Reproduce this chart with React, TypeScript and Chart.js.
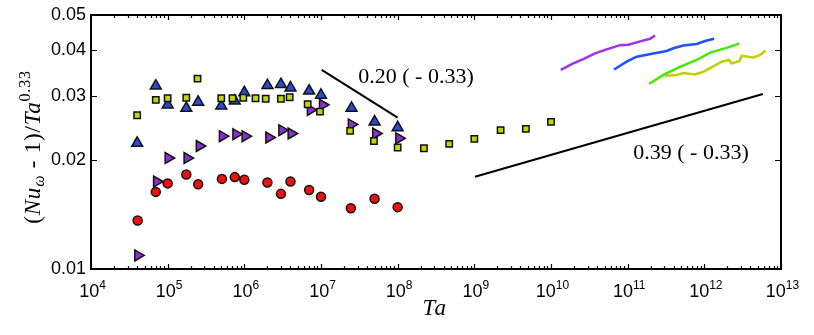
import React, { useEffect, useRef } from "react";
import { Chart, registerables } from "chart.js";
Chart.register(...registerables);

// ---- data ----
const squareTa = [4.0e4, 7.0e4, 1.0e5, 1.75e5, 2.45e5, 5.0e5, 7.0e5, 9.7e5, 1.4e6, 1.9e6, 3.0e6, 3.9e6, 6.7e6, 9.7e6, 2.4e7, 4.9e7, 1.0e8, 2.2e8, 4.7e8, 1.0e9, 2.2e9, 4.7e9, 1.0e10];
const squareVal = [0.0265, 0.0292, 0.0295, 0.0296, 0.0334, 0.0295, 0.0295, 0.0296, 0.0295, 0.0294, 0.0294, 0.0297, 0.0284, 0.0271, 0.0240, 0.0225, 0.0216, 0.0215, 0.0221, 0.0228, 0.0241, 0.0243, 0.0254];

const triUpTa = [4.0e4, 7.0e4, 1.0e5, 1.75e5, 2.5e5, 5.0e5, 7.5e5, 1.0e6, 2.0e6, 3.0e6, 4.0e6, 7.0e6, 1.0e7, 2.5e7, 5.0e7, 1.0e8];
const triUpVal = [0.0222, 0.0319, 0.0283, 0.0277, 0.0288, 0.0281, 0.0290, 0.0306, 0.0320, 0.0322, 0.0315, 0.0309, 0.0301, 0.0277, 0.0254, 0.0245];

const triRightTa = [4.1e4, 7.2e4, 1.02e5, 1.8e5, 2.6e5, 5.2e5, 7.8e5, 1.03e6, 2.1e6, 3.1e6, 4.1e6, 7.3e6, 1.05e7, 2.5e7, 5.2e7, 1.04e8];
const triRightVal = [0.0109, 0.0174, 0.0202, 0.0202, 0.0218, 0.0232, 0.0235, 0.0232, 0.0230, 0.0241, 0.0236, 0.0274, 0.0283, 0.0250, 0.0236, 0.0229];

const circleTa = [4.06e4, 7.0e4, 1.0e5, 1.75e5, 2.5e5, 5.1e5, 7.5e5, 1.0e6, 2.0e6, 3.0e6, 4.0e6, 7.0e6, 1.0e7, 2.45e7, 5.0e7, 1.0e8];
const circleVal = [0.0136, 0.0163, 0.0172, 0.0182, 0.0171, 0.0177, 0.0179, 0.0176, 0.0173, 0.0161, 0.0174, 0.0165, 0.0158, 0.0147, 0.0156, 0.0148];

const slope1Ta = [1.02e7, 1.0e8];
const slope1Val = [0.0353, 0.0261];
const slope2Ta = [1.02e9, 5.8e12];
const slope2Val = [0.01795, 0.0303];

const purpleTa = [1.34e10, 1.95e10, 2.64e10, 3.75e10, 5.32e10, 7.94e10, 1.02e11, 1.45e11, 1.96e11, 2.27e11];
const purpleVal = [0.0353, 0.0368, 0.0378, 0.0392, 0.0402, 0.0413, 0.0414, 0.0423, 0.0430, 0.0439];

const blueTa = [6.63e10, 9.7e10, 1.31e11, 2.16e11, 3.23e11, 3.94e11, 5.31e11, 7.94e11, 1.02e12, 1.34e12];
const blueVal = [0.0354, 0.0372, 0.0384, 0.0392, 0.0398, 0.0405, 0.0412, 0.0416, 0.0424, 0.0430];

const greenTa = [1.9e11, 2.92e11, 4.81e11, 7.94e11, 1.19e12, 1.95e12, 2.86e12];
const greenVal = [0.0323, 0.0342, 0.0360, 0.0376, 0.0394, 0.0406, 0.0417];

const oliveTa = [3.07e11, 4.36e11, 5.31e11, 7.55e11, 9.7e11, 1.19e12, 1.68e12, 2.11e12, 2.27e12, 2.86e12, 3.07e12, 4.35e12, 5.32e12, 6.31e12];
const oliveVal = [0.0340, 0.0342, 0.0346, 0.0343, 0.0349, 0.0357, 0.0372, 0.0376, 0.0368, 0.0373, 0.0386, 0.0382, 0.0388, 0.0399];

const xMin = 1e4;
const xMax = 1e13;
const xTickExps = [4, 5, 6, 7, 8, 9, 10, 11, 12, 13];
const yMin = 0.01;
const yMax = 0.05;
const yTicks = [0.01, 0.02, 0.03, 0.04, 0.05];
const yTickLabels = ["0.01", "0.02", "0.03", "0.04", "0.05"];
const slope1Label = "0.20 ( - 0.33)";
const slope2Label = "0.39 ( - 0.33)";

const pts = (xs: number[], ys: number[]) => xs.map((x, i) => ({ x, y: ys[i] }));

type Seg = { text: string; font: string; dy: number };
function drawRich(ctx: CanvasRenderingContext2D, segs: Seg[], cx: number, baseY: number, spacing = 0) {
  const c: any = ctx;
  c.letterSpacing = `${spacing}px`;
  let total = 0;
  const widths = segs.map((s) => {
    ctx.font = s.font;
    const w = ctx.measureText(s.text).width;
    total += w;
    return w;
  });
  let x = cx - total / 2;
  ctx.textAlign = "left";
  ctx.textBaseline = "alphabetic";
  segs.forEach((s, i) => {
    ctx.font = s.font;
    ctx.fillText(s.text, x, baseY + s.dy);
    x += widths[i];
  });
  c.letterSpacing = "0px";
}

const SANS = '"Liberation Sans", Arial, sans-serif';
const SERIF = '"Liberation Serif", "Times New Roman", serif';

export default function App() {
  const ref = useRef<HTMLCanvasElement>(null);
  useEffect(() => {
    const canvas = ref.current!;
    const axesPlugin = {
      id: "matlabAxes",
      afterDatasetsDraw(chart: any) {
        const { ctx, chartArea: a, scales } = chart;
        const xs = scales.x;
        const ys = scales.y;
        ctx.save();
        ctx.strokeStyle = "#000";
        ctx.fillStyle = "#000";
        // ticks
        ctx.lineWidth = 1.2;
        ctx.beginPath();
        for (const e of xTickExps) {
          for (let k = 1; k <= 9; k++) {
            const v = k * Math.pow(10, e);
            if (v > xMax * 1.0001) break;
            const px = Math.round(xs.getPixelForValue(v)) + 0.5;
            const len = k === 1 ? 5 : 3;
            ctx.moveTo(px, a.bottom);
            ctx.lineTo(px, a.bottom - len);
            ctx.moveTo(px, a.top);
            ctx.lineTo(px, a.top + len);
          }
        }
        for (const v of yTicks) {
          const py = Math.round(ys.getPixelForValue(v)) + 0.5;
          ctx.moveTo(a.left, py);
          ctx.lineTo(a.left + 6, py);
          ctx.moveTo(a.right, py);
          ctx.lineTo(a.right - 6, py);
        }
        ctx.stroke();
        // box
        ctx.lineWidth = 2;
        ctx.strokeRect(Math.round(a.left), Math.round(a.top), Math.round(a.right - a.left), Math.round(a.bottom - a.top));

        // y tick labels
        ctx.font = `18px ${SANS}`;
        ctx.textAlign = "right";
        ctx.textBaseline = "middle";
        yTicks.forEach((v, i) => {
          ctx.fillText(yTickLabels[i], a.left - 5, ys.getPixelForValue(v));
        });
        // x tick labels
        for (const e of xTickExps) {
          const px = xs.getPixelForValue(Math.pow(10, e));
          drawRich(
            ctx,
            [
              { text: "10", font: `18px ${SANS}`, dy: 0 },
              { text: String(e), font: `12px ${SANS}`, dy: -8 },
            ],
            px + 1.5,
            297
          );
        }
        // x title
        drawRich(ctx, [{ text: "Ta", font: `italic 23px ${SERIF}`, dy: 0 }], (a.left + a.right) / 2 - 1, 315, 1.5);

        // y title
        ctx.save();
        ctx.translate(40, 147);
        ctx.rotate(-Math.PI / 2);
        drawRich(
          ctx,
          [
            { text: "(", font: `23px ${SERIF}`, dy: 0 },
            { text: "Nu", font: `italic 23px ${SERIF}`, dy: 0 },
            { text: "ω", font: `italic 16px ${SERIF}`, dy: 4 },
            { text: " - 1)/", font: `23px ${SERIF}`, dy: 0 },
            { text: "Ta", font: `italic 23px ${SERIF}`, dy: 0 },
            { text: "0.33", font: `16px ${SERIF}`, dy: -10 },
          ],
          0,
          0,
          0.8
        );
        ctx.restore();

        // slope annotations
        ctx.font = `22px ${SERIF}`;
        ctx.textAlign = "center";
        ctx.textBaseline = "middle";
        ctx.fillText(slope1Label, 416, 77);
        ctx.fillText(slope2Label, 691, 153);
        ctx.restore();
      },
    };

    const lineDs = (label: string, xs: number[], ys: number[], color: string, width: number) => ({
      label,
      data: pts(xs, ys),
      showLine: true,
      borderColor: color,
      borderWidth: width,
      pointRadius: 0,
      fill: false,
      tension: 0,
    });

    const chart = new Chart(canvas, {
      type: "scatter",
      data: {
        datasets: [
          {
            label: "squares",
            data: pts(squareTa, squareVal),
            pointStyle: "rect",
            pointRadius: 4.5,
            backgroundColor: "#c4d600",
            borderColor: "#111",
            borderWidth: 1.5,
          },
          {
            label: "up",
            data: pts(triUpTa, triUpVal),
            pointStyle: "triangle",
            pointRadius: 6.3,
            backgroundColor: "#2a4ad6",
            borderColor: "#111",
            borderWidth: 1.5,
          },
          {
            label: "right",
            data: pts(triRightTa, triRightVal),
            pointStyle: "triangle",
            rotation: 90,
            pointRadius: 6.3,
            backgroundColor: "#8a30d0",
            borderColor: "#111",
            borderWidth: 1.5,
          },
          {
            label: "circles",
            data: pts(circleTa, circleVal),
            pointStyle: "circle",
            pointRadius: 4.5,
            backgroundColor: "#f01010",
            borderColor: "#111",
            borderWidth: 1.5,
          },
          lineDs("s1", slope1Ta, slope1Val, "#000", 2),
          lineDs("s2", slope2Ta, slope2Val, "#000", 2),
          lineDs("purple", purpleTa, purpleVal, "#a030f0", 2.5),
          lineDs("blue", blueTa, blueVal, "#2050ff", 2.5),
          lineDs("green", greenTa, greenVal, "#44e800", 2.5),
          lineDs("olive", oliveTa, oliveVal, "#c0d000", 2.5),
        ] as any,
      },
      options: {
        animation: false,
        responsive: false,
        devicePixelRatio: 1,
        layout: { padding: { left: 91, right: 33, top: 15, bottom: 66 } },
        plugins: { legend: { display: false }, tooltip: { enabled: false } },
        scales: {
          x: { type: "logarithmic", min: xMin, max: xMax, display: false },
          y: { type: "logarithmic", min: yMin, max: yMax, display: false },
        },
      },
      plugins: [axesPlugin],
    });
    return () => chart.destroy();
  }, []);
  return (
    <div style={{ position: "fixed", left: 0, top: 0, width: 814, height: 335, background: "#fff" }}>
      <canvas ref={ref} width={814} height={335} style={{ display: "block" }} />
    </div>
  );
}
